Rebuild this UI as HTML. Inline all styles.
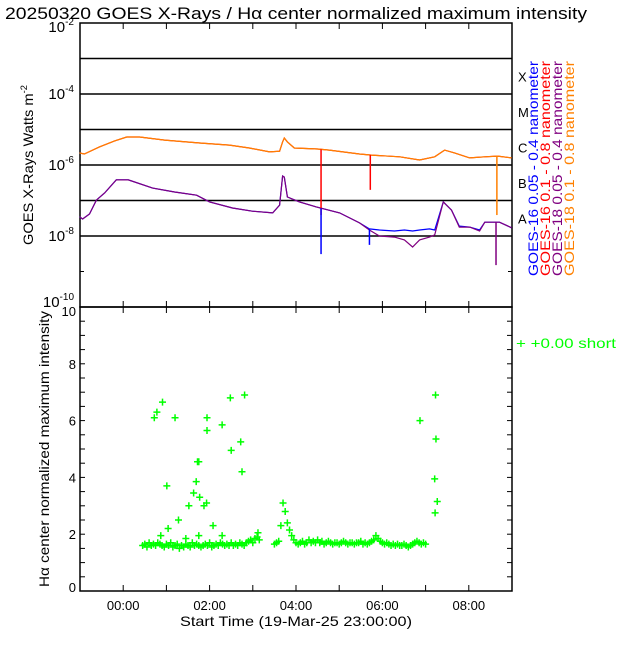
<!DOCTYPE html>
<html><head><meta charset="utf-8"><style>
html,body{margin:0;padding:0;background:#fff;}
svg text{font-family:"Liberation Sans",sans-serif;}
</style></head><body>
<svg id="c" width="640" height="640" xmlns="http://www.w3.org/2000/svg">
<text x="5" y="19" font-size="17" fill="#000" textLength="582" lengthAdjust="spacingAndGlyphs">20250320 GOES X-Rays / Hα center normalized maximum intensity</text>
<g id="gtop"></g><g id="gbot"></g>
</svg>
<script>
// ---- GOES data (hours since 00:00, log10 flux) ----
const orangeHours=[-1.01,-0.90,-0.55,-0.20,0.08,0.38,0.96,1.77,2.46,2.92,3.39,3.62,3.69,3.73,3.80,3.96,4.50,4.77,5.47,5.75,6.40,6.86,7.21,7.44,7.67,8.02,8.37,8.67,8.99];
const orangeLog=[-5.66,-5.69,-5.49,-5.32,-5.21,-5.21,-5.30,-5.38,-5.44,-5.52,-5.63,-5.61,-5.35,-5.24,-5.35,-5.52,-5.55,-5.58,-5.69,-5.72,-5.77,-5.86,-5.77,-5.58,-5.66,-5.80,-5.77,-5.75,-5.80];
const redSpikeHours=[4.58,5.72];
const redSpikeLog=[-7.41,-6.70];
const orangeSpikeHours=[8.65];
const orangeSpikeLog=[-7.41];
const shortHours=[-1.01,-0.94,-0.78,-0.62,-0.43,-0.16,0.12,0.68,1.19,1.70,2.00,2.53,2.99,3.46,3.62,3.69,3.73,3.80,4.08,4.47,5.01,5.47,5.70,5.93,6.28,6.51,6.70,6.86,7.09,7.21,7.41,7.60,7.78,8.02,8.25,8.37,8.71,8.99];
const purpleLog=[-7.46,-7.52,-7.38,-6.99,-6.79,-6.42,-6.42,-6.65,-6.76,-6.85,-7.04,-7.21,-7.30,-7.35,-7.13,-6.31,-6.34,-6.90,-7.04,-7.18,-7.35,-7.63,-7.83,-8.00,-8.03,-8.11,-8.31,-8.11,-8.03,-7.97,-7.04,-7.27,-7.75,-7.75,-7.86,-7.61,-7.61,-7.77];
const blueLog=[-7.46,-7.52,-7.38,-6.99,-6.79,-6.42,-6.42,-6.65,-6.76,-6.85,-7.04,-7.21,-7.30,-7.35,-7.13,-6.31,-6.34,-6.90,-7.04,-7.18,-7.35,-7.63,-7.80,-7.83,-7.86,-7.83,-7.86,-7.83,-7.80,-7.83,-7.04,-7.27,-7.72,-7.75,-7.83,-7.61,-7.61,-7.77];
const blueSpikeHours=[4.58,5.70];
const blueSpikeLog=[-8.51,-8.25];
const purpleSpikeHours=[8.63];
const purpleSpikeLog=[-8.82];
const yTickExps=[-2,-4,-6,-8,-10];
const flareClasses=['X','M','C','B','A'];
const xTickLabels=['00:00','02:00','04:00','06:00','08:00'];
const xTickHours=[0,2,4,6,8];
// ---- H-alpha data ----
const seg1Start=0.45, seg1Step=0.05;
const seg1Vals=[1.6,1.65,1.55,1.7,1.6,1.65,1.6,1.7,1.65,1.6,1.55,1.65,1.6,1.7,1.55,1.6,1.65,1.5,1.6,1.55,1.65,1.6,1.55,1.7,1.6,1.65,1.6,1.55,1.6,1.65,1.6,1.7,1.55,1.6,1.65,1.6,1.7,1.65,1.6,1.65,1.6,1.7,1.6,1.65,1.6,1.7,1.65,1.6,1.7,1.75,1.8,1.7,1.85,1.9,1.8];
const seg2Start=3.5, seg2Step=0.05;
const seg2Vals=[1.65,1.7,1.75,2.3,3.1,2.8,2.4,2.15,1.95,1.8,1.7,1.65,1.7,1.75,1.65,1.7,1.8,1.7,1.75,1.7,1.8,1.7,1.75,1.65,1.7,1.75,1.7,1.65,1.7,1.7,1.65,1.7,1.75,1.7,1.65,1.7,1.7,1.65,1.7,1.7,1.75,1.65,1.7,1.65,1.7,1.75,1.8,1.95,1.85,1.75,1.7,1.65,1.7,1.65,1.6,1.65,1.6,1.65,1.6,1.6,1.65,1.6,1.55,1.6,1.65,1.7,1.75,1.7,1.65,1.7,1.65];
const outlierHours=[0.72,0.78,0.91,1.01,1.04,1.2,1.28,1.52,1.63,1.69,1.72,1.75,1.77,1.87,1.93,1.94,1.94,2.08,2.29,2.48,2.5,2.72,2.75,2.81,6.87,7.23,7.24,7.21,7.27,7.22,0.87,1.45,1.75,2.29,3.12];
const outlierVals=[6.1,6.3,6.65,3.7,2.2,6.1,2.5,3.0,3.45,3.85,4.55,4.55,3.3,3.0,3.1,6.1,5.65,2.3,5.85,6.8,4.95,5.25,4.2,6.9,6.0,6.9,5.35,3.95,3.15,2.75,1.95,1.85,1.95,1.95,2.05];

const NS='http://www.w3.org/2000/svg';
const L=80,R=512,T1=23,B1=307,T2=307,B2=591;
const xs=h=>L+(h+1)*(R-L)/10;
const yLog=v=>T1+(-2-v)*(B1-T1)/8;
const yH=v=>B2-v*(B2-T2)/10;
function mk(tag,attrs,parent){const e=document.createElementNS(NS,tag);for(const k in attrs)e.setAttribute(k,attrs[k]);parent.appendChild(e);return e;}
const gTop=document.getElementById('gtop'),gBot=document.getElementById('gbot');

for(let e=-3;e>=-8;e--){const l=mk('line',{x1:L,x2:R,y1:yLog(e),y2:yLog(e),stroke:'#000','stroke-width':1.5},gTop);

}
const f1=mk('rect',{x:L,y:T1,width:R-L,height:B1-T1,fill:'none',stroke:'#000','stroke-width':1.5},gTop);


const f2=mk('rect',{x:L,y:T2,width:R-L,height:B2-T2,fill:'none',stroke:'#000','stroke-width':1.5},gBot);


yTickExps.forEach(e=>{const y=yLog(e);
const off=e===-2?9:(e===-10?0:5);
const t=mk('text',{x:L-6,y:y+off,'font-size':15,'text-anchor':'end',fill:'#000'},gTop);
t.innerHTML='10<tspan dy="-7" font-size="10">'+e+'</tspan>';

});
for(let e=-3;e>=-9;e-=2){const y=yLog(e);mk('line',{x1:L,x2:L+4,y1:y,y2:y,stroke:'#000'},gTop);mk('line',{x1:R-4,x2:R,y1:y,y2:y,stroke:'#000'},gTop);}
flareClasses.forEach((c,i)=>{const t=mk('text',{x:518,y:yLog(-3.5-i)+5,'font-size':13,fill:'#000'},gTop);t.textContent=c;

});
for(let h=0;h<=8;h++){const x=xs(h);
[[B1,-6],[T1,6],[B2,-6],[T2,6]].forEach(([y,d])=>mk('line',{x1:x,x2:x,y1:y,y2:y+d,stroke:'#000'},gTop));}
xTickHours.forEach((h,i)=>{const t=mk('text',{x:xs(h),y:610,'font-size':13,'text-anchor':'middle',fill:'#000'},gBot);t.textContent=xTickLabels[i];

});
const xt=mk('text',{x:180,y:626,'font-size':14,fill:'#000',textLength:232,lengthAdjust:'spacingAndGlyphs'},gBot);xt.textContent='Start Time (19-Mar-25 23:00:00)';


const yt=mk('text',{x:0,y:0,'font-size':14,fill:'#000',textLength:160,lengthAdjust:'spacingAndGlyphs',transform:'translate(33,245) rotate(-90)'},gTop);
yt.innerHTML='GOES X-Rays Watts m<tspan dy="-6" font-size="9">-2</tspan>';


const yt2=mk('text',{x:0,y:0,'font-size':14,fill:'#000',textLength:276,lengthAdjust:'spacingAndGlyphs',transform:'translate(49,587) rotate(-90)'},gBot);
yt2.textContent='Hα center normalized maximum intensity';


for(let v=0;v<=10;v+=0.5){const y=yH(v);mk('line',{x1:L,x2:L+5,y1:y,y2:y,stroke:'#000'},gBot);mk('line',{x1:R-5,x2:R,y1:y,y2:y,stroke:'#000'},gBot);}
for(let v=0;v<=10;v+=2){const off=v===10?9:(v===0?1:5);const t=mk('text',{x:L-4,y:yH(v)+off,'font-size':13,'text-anchor':'end',fill:'#000'},gBot);t.textContent=v;

}
function line(hs,vs,col,name){const d=hs.map((h,i)=>(i?'L':'M')+xs(h).toFixed(1)+','+yLog(vs[i]).toFixed(1)).join('');
const p=mk('path',{d:d,fill:'none',stroke:col,'stroke-width':1.2},gTop);

}
function spikes(hs,vs,col,base,name){hs.forEach((h,i)=>{let j=0;while(j<base.h.length-2&&base.h[j+1]<h)j++;
const b=base.v[j]+(base.v[j+1]-base.v[j])*(h-base.h[j])/(base.h[j+1]-base.h[j]);
const p=mk('line',{x1:xs(h),x2:xs(h),y1:yLog(b),y2:yLog(vs[i]),stroke:col,'stroke-width':1.5},gTop);

});}
line(orangeHours,orangeLog,'#ff0000','goes16-long-line');
line(shortHours,blueLog,'#0000ff','goes16-short-line');
line(shortHours,purpleLog,'#800080','goes18-short-line');
line(orangeHours,orangeLog,'#ff8000','goes18-long-line');
spikes(redSpikeHours,redSpikeLog,'#ff0000',{h:orangeHours,v:orangeLog},'goes16-long-dropout');
spikes(orangeSpikeHours,orangeSpikeLog,'#ff8000',{h:orangeHours,v:orangeLog},'goes18-long-dropout');
spikes(blueSpikeHours,blueSpikeLog,'#0000ff',{h:shortHours,v:blueLog},'goes16-short-dropout');
spikes(purpleSpikeHours,purpleSpikeLog,'#800080',{h:shortHours,v:purpleLog},'goes18-short-dropout');
const leg=[['GOES-16 0.05 - 0.4 nanometer','#0000ff'],['GOES-16 0.1 - 0.8 nanometer','#ff0000'],['GOES-18 0.05 - 0.4 nanometer','#800080'],['GOES-18 0.1 - 0.8 nanometer','#ff8000']];
leg.forEach((l,i)=>{const x=538+i*12;const t=mk('text',{x:0,y:0,'font-size':14,fill:l[1],textLength:215,lengthAdjust:'spacingAndGlyphs',transform:'translate('+x+',276) rotate(-90)'},gTop);t.textContent=l[0];

});
function cross(h,v){const x=xs(h),y=yH(v);const p=mk('path',{d:'M'+(x-3.5)+','+y+'h7M'+x+','+(y-3.5)+'v7',stroke:'#00ff00','stroke-width':1.5,fill:'none'},gBot);

}
seg1Vals.forEach((v,i)=>cross(seg1Start+i*seg1Step,v));
seg2Vals.forEach((v,i)=>cross(seg2Start+i*seg2Step,v));
outlierVals.forEach((v,i)=>cross(outlierHours[i],v));
const lg=mk('text',{x:516,y:348,'font-size':14,fill:'#00ff00',textLength:100,lengthAdjust:'spacingAndGlyphs'},gBot);lg.textContent='+  +0.00 short';


</script>
</body></html>
